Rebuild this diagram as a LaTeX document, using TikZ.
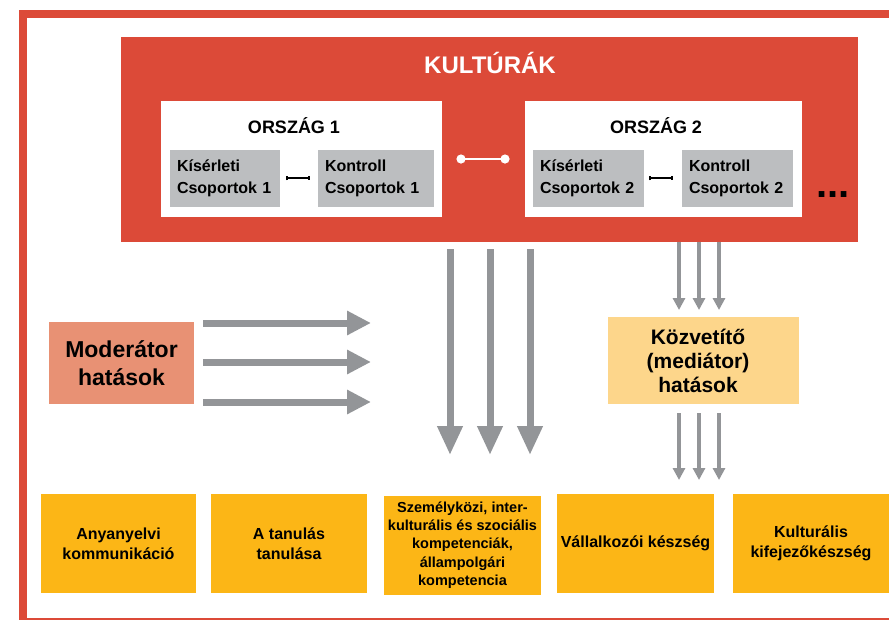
\documentclass[tikz,border=0pt]{standalone}
\usepackage{fontspec}
\setmainfont{Liberation Sans}
\usetikzlibrary{arrows.meta}
\definecolor{kred}{RGB}{220,74,56}
\definecolor{agray}{RGB}{147,149,152}
\definecolor{bgray}{RGB}{188,190,192}
\definecolor{kyellow}{RGB}{252,182,22}
\definecolor{ksalmon}{RGB}{232,145,116}
\definecolor{korange}{RGB}{253,214,139}
\tikzset{
  fillbox/.style={rectangle, inner sep=0pt, outer sep=0pt, draw=none},
  whitebox/.style={fillbox, fill=white, minimum height=116pt},
  graybox/.style={fillbox, fill=bgray, minimum height=57pt, align=left, inner xsep=7pt,
    font=\fontsize{16}{22}\selectfont\bfseries},
  ybox/.style={fillbox, fill=kyellow, minimum width=156pt, minimum height=99pt, align=center,
    font=\fontsize{16}{20}\selectfont\bfseries},
  countrylbl/.style={font=\fontsize{18}{22}\selectfont\bfseries, inner sep=0pt},
  bigarrow/.style={draw=agray, line width=7pt, -{Triangle[width=24pt,length=29pt]}},
  harrow/.style={draw=agray, line width=7pt, -{Triangle[width=23pt,length=24pt]}},
  smallarrow/.style={draw=agray, line width=4pt, -{Triangle[width=12pt,length=12pt]}},
  blink/.style={draw=black, line width=2pt, {Bar[width=4.5pt,line width=2.2pt]}-{Bar[width=4.5pt,line width=2.2pt]}},
  wlink/.style={draw=white, line width=2.5pt, {Circle[length=9pt]}-{Circle[length=9pt]}}
}
\begin{document}
\begin{tikzpicture}[x=1pt,y=-1pt]
\useasboundingbox (0,0) rectangle (889,619);
\clip (0,0) rectangle (889,619);
% outer frame
\draw[kred, line width=8pt] (23,14) rectangle (910,621.5);

% cultures box
\node[fillbox, fill=kred, minimum width=737pt, minimum height=205pt] (kult) at (489.5,139.5) {};
\node[font=\fontsize{24}{29}\selectfont\bfseries, text=white, inner sep=0pt] (kultt) at (490,63) {KULTÚRÁK};

% countries
\node[whitebox, minimum width=281pt] (w1) at (301.5,159) {};
\node[whitebox, minimum width=277pt] (w2) at (663.5,159) {};
\node[countrylbl] (o1) at (294,126) {ORSZÁG 1};
\node[countrylbl] (o2) at (656,126) {ORSZÁG 2};

\node[graybox, text width=96pt] (k1) at (225,178) {Kísérleti\\Csoportok 1};
\node[graybox, text width=102pt] (c1) at (376,178) {Kontroll\\Csoportok 1};
\node[graybox, text width=97pt] (k2) at (588.5,178) {Kísérleti\\Csoportok 2};
\node[graybox, text width=97pt] (c2) at (737.5,178) {Kontroll\\Csoportok 2};

\draw[blink, shorten <=6pt, shorten >=8pt] (k1.east) -- (c1.west);
\draw[blink, shorten <=5pt, shorten >=9pt] (k2.east) -- (c2.west);
\draw[wlink, shorten <=14.5pt, shorten >=15.5pt] (w1.east) -- (w2.west);

\node[font=\fontsize{40}{40}\selectfont\bfseries, anchor=base, inner sep=0pt] (dots) at (833,197.5) {...};

% moderator
\node[fillbox, fill=ksalmon, minimum width=145pt, minimum height=82pt, align=center,
  font=\fontsize{23}{28}\selectfont\bfseries] (mod) at (121.5,363) {Moderátor\\hatások};
\coordinate (h1) at (371,323);
\coordinate (h2) at (371,362);
\coordinate (h3) at (371,402);
\draw[harrow, shorten <=9pt] (mod.east |- h1) -- (h1);
\draw[harrow, shorten <=9pt] (mod.east |- h2) -- (h2);
\draw[harrow, shorten <=9pt] (mod.east |- h3) -- (h3);

% mediator
\node[fillbox, fill=korange, minimum width=191pt, minimum height=87pt] (med) at (703.5,360.5) {};
\node[align=center, inner sep=0pt, font=\fontsize{21}{24}\selectfont\bfseries] (medt) at (698,361) {Közvetítő\\(mediátor)\\hatások};

% big vertical arrows
\coordinate (v1) at (450,455);
\coordinate (v2) at (490,455);
\coordinate (v3) at (530,455);
\draw[bigarrow, shorten <=7pt] (kult.south -| v1) -- (v1);
\draw[bigarrow, shorten <=7pt] (kult.south -| v2) -- (v2);
\draw[bigarrow, shorten <=7pt] (kult.south -| v3) -- (v3);

% small arrows to / from mediator
\foreach \x/\n in {679/a,699/b,719/c}{
  \coordinate (t\n) at (\x,310);
  \coordinate (b\n) at (\x,480);
}
\draw[smallarrow] (kult.south -| ta) -- (ta);
\draw[smallarrow] (kult.south -| tb) -- (tb);
\draw[smallarrow] (kult.south -| tc) -- (tc);
\draw[smallarrow, shorten <=9pt] (med.south -| ba) -- (ba);
\draw[smallarrow, shorten <=9pt] (med.south -| bb) -- (bb);
\draw[smallarrow, shorten <=9pt] (med.south -| bc) -- (bc);

% competences
\node[ybox, minimum width=155pt] (y1) at (118.5,543.5) {Anyanyelvi\\kommunikáció};
\node[ybox] (y2) at (289,543.5) {A tanulás\\tanulása};
\node[ybox, minimum width=157pt, font=\fontsize{14.5}{18.3}\selectfont\bfseries] (y3) at (462.5,545) {Személyközi, inter-\\kulturális és szociális\\kompetenciák,\\állampolgári\\kompetencia};
\node[ybox, minimum width=157pt] (y4) at (635.5,543.5) {Vállalkozói készség};
\node[ybox] (y5) at (811,543.5) {Kulturális\\kifejezőkészség};
\end{tikzpicture}
\end{document}
